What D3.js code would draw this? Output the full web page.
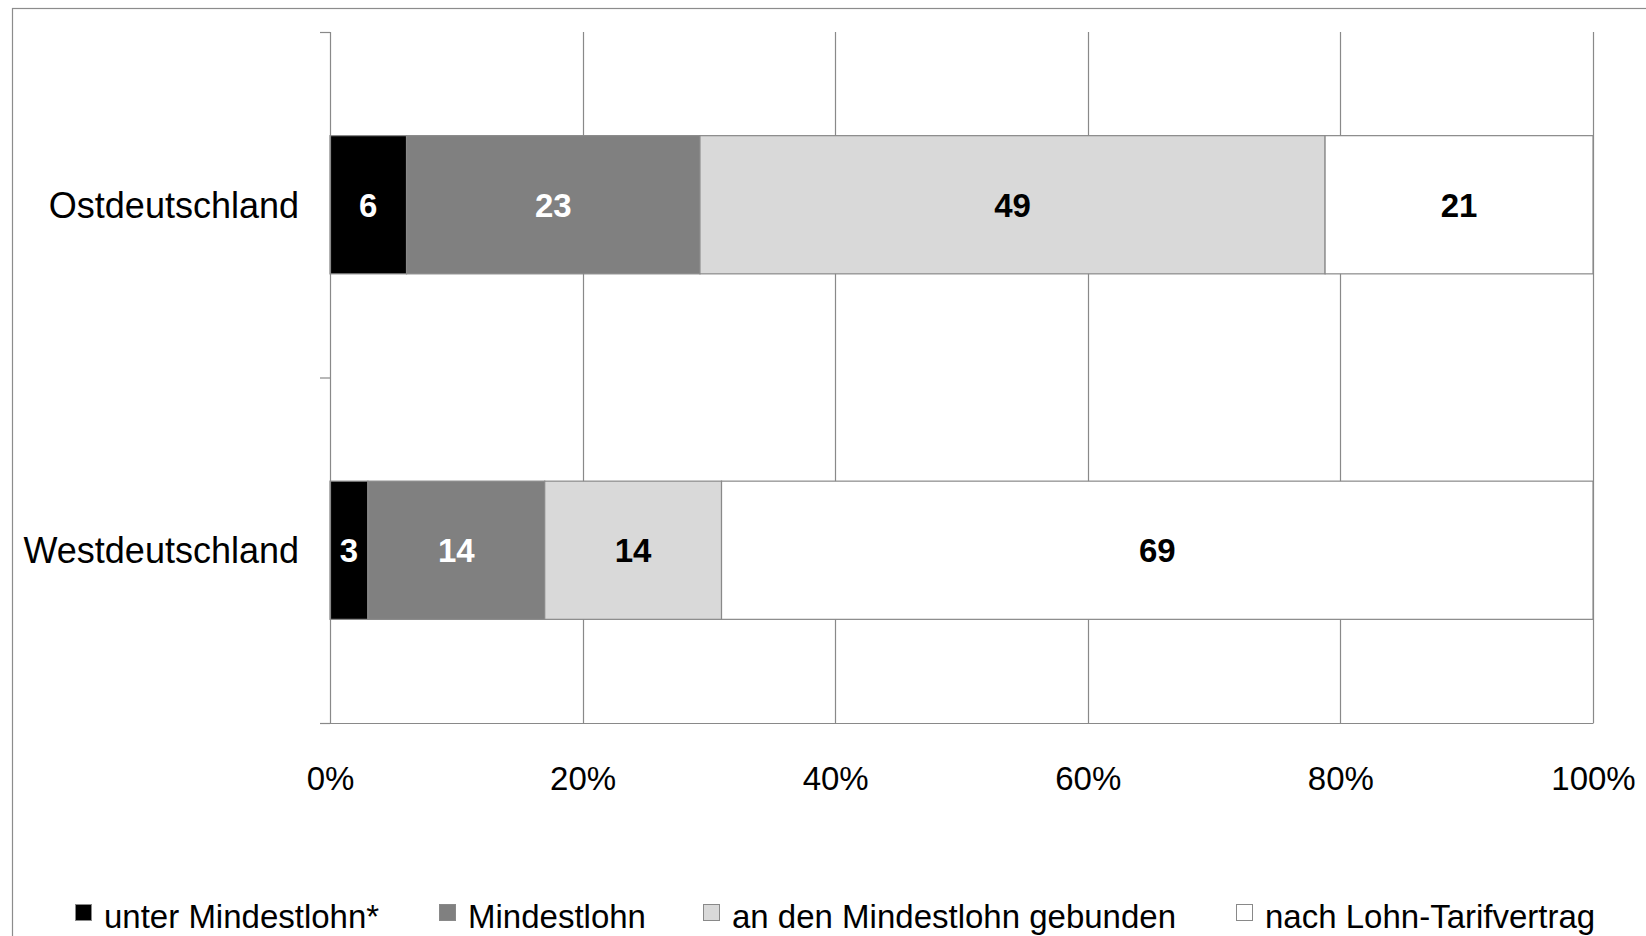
<!DOCTYPE html>
<html>
<head>
<meta charset="utf-8">
<script src="https://cdn.jsdelivr.net/npm/d3@7"></script>
<style>
  body { margin: 0; background: #fff; }
  svg { display: block; font-family: "Liberation Sans", Arial, sans-serif; }
</style>
</head>
<body>
<div id="chart-container"></div>
<script>
// Data
const categories = ["Ostdeutschland", "Westdeutschland"];
const seriesNames = ["unter Mindestlohn*", "Mindestlohn", "an den Mindestlohn gebunden", "nach Lohn-Tarifvertrag"];
const unterMindestlohn = [6, 3];
const mindestlohn = [23, 14];
const gebunden = [49, 14];
const tarifvertrag = [21, 69];
const xTicks = [0, 0.2, 0.4, 0.6, 0.8, 1];

const seriesValues = [unterMindestlohn, mindestlohn, gebunden, tarifvertrag];
const fills = ["#000000", "#808080", "#d9d9d9", "#ffffff"];
const labelColors = ["#ffffff", "#ffffff", "#000000", "#000000"];

const W = 1646, H = 936;
const margin = { top: 32, left: 330, right: 53, bottom: 213 };
const width = W - margin.left - margin.right;
const height = H - margin.top - margin.bottom;

// rows for stacking
const rows = categories.map((c, i) => {
    const r = { cat: c };
    seriesNames.forEach((s, j) => (r[s] = seriesValues[j][i]));
    return r;
});
const stacked = d3.stack().keys(seriesNames).offset(d3.stackOffsetExpand)(rows);

const svg = d3.select("#chart-container").append("svg")
    .attr("width", W).attr("height", H);

// outer frame
svg.append("rect")
    .attr("x", 12.5).attr("y", 8.5)
    .attr("width", W).attr("height", H)
    .attr("fill", "none").attr("stroke", "#8c8c8c").attr("stroke-width", 1.2);

const g = svg.append("g").attr("transform", `translate(${margin.left},${margin.top})`);

const xScale = d3.scaleLinear().domain([0, 1]).range([0, width]);
const yScale = d3.scaleBand().domain(categories).range([0, height]).padding(0);
const yEdge = d3.scaleLinear().domain([0, categories.length]).range([0, height]);

// gridlines
g.append("g").selectAll("line")
    .data(xTicks.slice(1))
    .enter().append("line")
    .attr("x1", d => Math.round(xScale(d)) + 0.5)
    .attr("x2", d => Math.round(xScale(d)) + 0.5)
    .attr("y1", 0).attr("y2", height)
    .attr("stroke", "#898989").attr("stroke-width", 1.2);

// bars
const barH = yScale.bandwidth() * 0.4;
const layer = g.selectAll(".layer")
    .data(stacked)
    .enter().append("g")
    .attr("class", "layer");

layer.selectAll("rect")
    .data((d, i) => d.map(p => ({ p, i })))
    .enter().append("rect")
    .attr("x", d => xScale(d.p[0]))
    .attr("y", d => yScale(d.p.data.cat) + (yScale.bandwidth() - barH) / 2)
    .attr("width", d => xScale(d.p[1]) - xScale(d.p[0]))
    .attr("height", barH)
    .attr("fill", d => fills[d.i])
    .attr("stroke", "#898989").attr("stroke-width", 1.2);

layer.selectAll("text")
    .data((d, i) => d.map(p => ({ p, i, v: p.data[d.key] })))
    .enter().append("text")
    .attr("x", d => (xScale(d.p[0]) + xScale(d.p[1])) / 2)
    .attr("y", d => yScale(d.p.data.cat) + yScale.bandwidth() / 2 + 12)
    .attr("text-anchor", "middle")
    .attr("font-size", "33px").attr("font-weight", "bold")
    .attr("fill", d => labelColors[d.i])
    .text(d => d.v);

// y axis
const yAxis = g.append("g")
    .call(d3.axisLeft(yEdge).ticks(categories.length).tickSizeOuter(0).tickSize(10).tickFormat(""));
yAxis.selectAll("line, path").attr("stroke", "#898989").attr("stroke-width", 1.2);

// category labels
g.append("g").selectAll("text")
    .data(categories)
    .enter().append("text")
    .attr("x", -31)
    .attr("y", d => yScale(d) + yScale.bandwidth() / 2 + 13)
    .attr("text-anchor", "end")
    .attr("font-size", "36px")
    .attr("fill", "#000")
    .text(d => d);

// x axis
const xAxis = g.append("g")
    .attr("transform", `translate(0,${height})`)
    .call(d3.axisBottom(xScale).tickValues(xTicks).tickSize(0).tickPadding(44).tickFormat(d3.format(".0%")));
xAxis.select(".domain").attr("stroke", "#898989").attr("stroke-width", 1.2);
xAxis.selectAll("text")
    .attr("font-size", "33px")
    .attr("font-family", "Liberation Sans, Arial, sans-serif")
    .attr("fill", "#000");

// legend
const legendX = [75, 439, 703, 1236];
const legend = svg.append("g").selectAll("g")
    .data(seriesNames)
    .enter().append("g")
    .attr("transform", (d, i) => `translate(${legendX[i]},904)`);
legend.append("rect")
    .attr("x", 0.5).attr("y", 0.5)
    .attr("width", 16).attr("height", 16)
    .attr("fill", (d, i) => fills[i])
    .attr("stroke", "#898989").attr("stroke-width", 1);
legend.append("text")
    .attr("x", 29).attr("y", 24)
    .attr("font-size", "33px")
    .attr("fill", "#000")
    .text(d => d);
</script>
</body>
</html>
